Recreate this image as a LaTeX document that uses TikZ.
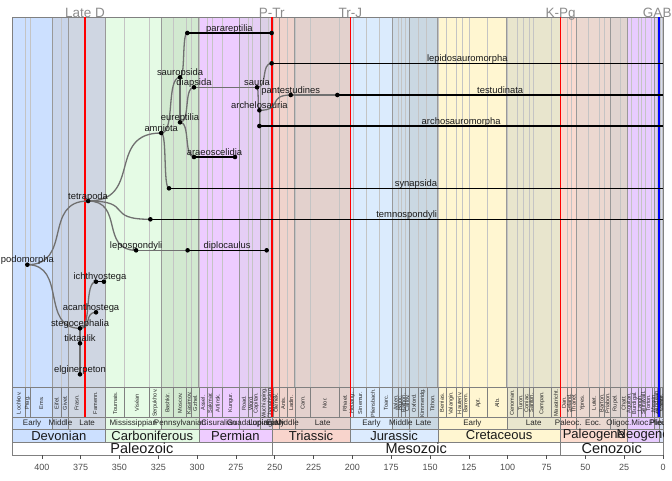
\documentclass[tikz,border=0pt]{standalone}
\usepackage{fontspec}
\setmainfont{Liberation Sans}
\usetikzlibrary{calc}
% epoch colours (panel bands, stage and epoch rows)
\definecolor{edev}{HTML}{CCE0FF}
\definecolor{mdev}{HTML}{C9D5EA}
\definecolor{ldev}{HTML}{CFD6E2}
\definecolor{miss}{HTML}{E5FBE5}
\definecolor{penn}{HTML}{D2E9D0}
\definecolor{cisu}{HTML}{EDCCFF}
\definecolor{guad}{HTML}{E5CEF5}
\definecolor{lopi}{HTML}{DCD0E6}
\definecolor{etri}{HTML}{F8D4CC}
\definecolor{mtri}{HTML}{EFD3CC}
\definecolor{ltri}{HTML}{E3D1CD}
\definecolor{ejur}{HTML}{DBEBFD}
\definecolor{mjur}{HTML}{CEDCE9}
\definecolor{ljur}{HTML}{CAD8E2}
\definecolor{ecre}{HTML}{FFF6D1}
\definecolor{lcre}{HTML}{E8E5CD}
\definecolor{pale}{HTML}{FADAD0}
\definecolor{eoce}{HTML}{EBD8D0}
\definecolor{olig}{HTML}{E0D4D0}
\definecolor{mioc}{HTML}{E8CCFF}
\definecolor{plio}{HTML}{DECCF2}
\definecolor{plei}{HTML}{D8DCF0}
\definecolor{holo}{HTML}{D8DCF0}
% period colours
\definecolor{pdev}{HTML}{CCE0FF}
\definecolor{pcar}{HTML}{E3F9E3}
\definecolor{pper}{HTML}{EECCFF}
\definecolor{ptri}{HTML}{F8D4CC}
\definecolor{pjur}{HTML}{DCEBFE}
\definecolor{pcre}{HTML}{FFF6D1}
\definecolor{ppal}{HTML}{FCDCCF}
\definecolor{pneo}{HTML}{E8CCFF}
\definecolor{pqua}{HTML}{DDE4FA}
% lines and text
\definecolor{branchgray}{HTML}{707070}
\definecolor{stageline}{HTML}{C4C4C4}
\definecolor{epochline}{HTML}{999999}
\definecolor{barline}{HTML}{808080}
\definecolor{ticktext}{HTML}{4D4D4D}
\definecolor{eventtext}{HTML}{8C8C8C}
\tikzstyle{taxdot} = [circle, fill=black, inner sep=0pt, minimum size=4.6pt]
\tikzstyle{branchline} = [draw=branchgray, line width=1.3pt]
\tikzstyle{tipline} = [draw=black, line width=1.3pt]
\tikzstyle{taxlabel} = [font=\fontsize{9.4}{10}\selectfont, text=black!90,
  anchor=base, inner sep=0pt, yshift=2pt]
\tikzstyle{stagebox} = [draw=barline, line width=0.5pt]
\tikzstyle{stagelabel} = [font=\fontsize{5.6}{6}\selectfont, rotate=90,
  inner sep=0pt, text=black!85]
\tikzstyle{epochlabel} = [font=\fontsize{8}{9}\selectfont, inner sep=0pt, text=black!85]
\tikzstyle{periodlabel} = [font=\fontsize{13}{14}\selectfont, inner sep=0pt, text=black!90]
\tikzstyle{eralabel} = [font=\fontsize{14.5}{15}\selectfont, inner sep=0pt, text=black!90]
\tikzstyle{eventlabel} = [font=\fontsize{13.5}{14}\selectfont, text=eventtext,
  anchor=base, inner sep=0pt]
\tikzstyle{eventline} = [line width=1.4pt]
\tikzstyle{ticklabel} = [font=\fontsize{9}{10}\selectfont, text=ticktext, inner sep=0pt]
% sigmoid branch between two taxa
\newcommand{\bumpline}[2]{%
  \draw[branchline] let \p1=(#1), \p2=(#2) in
    (\p1) .. controls ({\x1+0.75*(\x2-\x1)},\y1) and ({\x2-0.75*(\x2-\x1)},\y2) .. (\p2);}
\def\stagelist{419.2/410.8/Lochkov./edev, 410.8/407.6/Prag./edev, 407.6/393.3/Ems./edev,
  393.3/387.7/Eifel./mdev, 387.7/382.7/Givet./mdev, 382.7/372.2/Frasn./ldev,
  372.2/358.9/Famenn./ldev, 358.9/346.7/Tournais./miss, 346.7/330.9/Viséan/miss,
  330.9/323.2/Serpukhov./miss, 323.2/315.2/Bashkir./penn, 315.2/307.0/Moscov./penn,
  307.0/303.7/Kasimov./penn, 303.7/298.9/Gzhel./penn, 298.9/293.52/Assel./cisu,
  293.52/290.1/Sakmar./cisu, 290.1/283.5/Artinsk./cisu, 283.5/273.01/Kungur./cisu,
  273.01/266.9/Road./guad, 266.9/264.28/Word./guad, 264.28/259.51/Capitan./guad,
  259.51/254.14/Wuchiaping./lopi, 254.14/251.902/Changhsing./lopi,
  251.902/251.2/Induan/etri, 251.2/247.2/Olenek./etri, 247.2/242/Anis./mtri,
  242/237/Ladin./mtri, 237/227/Carn./ltri, 227/208.5/Nor./ltri, 208.5/201.3/Rhaet./ltri,
  201.3/199.3/Hettang./ejur, 199.3/190.8/Sinemur./ejur, 190.8/182.7/Pliensbach./ejur,
  182.7/174.1/Toarc./ejur, 174.1/170.3/Aalen./mjur, 170.3/168.3/Bajoc./mjur,
  168.3/166.1/Bathon./mjur, 166.1/163.5/Callov./mjur, 163.5/157.3/Oxford./ljur,
  157.3/152.1/Kimmeridg./ljur, 152.1/145/Tithon./ljur, 145/139.8/Berrias./ecre,
  139.8/132.9/Valangin./ecre, 132.9/129.4/Hauteriv./ecre, 129.4/125/Barrem./ecre,
  125/113/Apt./ecre, 113/100.5/Alb./ecre, 100.5/93.9/Cenoman./lcre,
  93.9/89.8/Turon./lcre, 89.8/86.3/Coniac./lcre, 86.3/83.6/Santon./lcre,
  83.6/72.1/Campan./lcre, 72.1/66/Maastricht./lcre, 66/61.6/Dan./pale,
  61.6/59.2/Seland./pale, 59.2/56/Thanet./pale, 56/47.8/Ypres./eoce,
  47.8/41.2/Lutet./eoce, 41.2/37.71/Barton./eoce, 37.71/33.9/Priabon./eoce,
  33.9/27.82/Rupel./olig, 27.82/23.03/Chatt./olig, 23.03/20.44/Aquitan./mioc,
  20.44/15.97/Burdigal./mioc, 15.97/13.82/Langh./mioc, 13.82/11.63/Serravall./mioc,
  11.63/7.246/Torton./mioc, 7.246/5.333/Messin./mioc, 5.333/3.6/Zanclean/plio,
  3.6/2.58/Piacenz./plio, 2.58/1.8/Gelas./plei, 1.8/0.774/Calabr./plei,
  0.774/0.129//plei, 0.129/0.0117//plei, 0.0117/0//holo}
\def\epochlist{419.2/393.3/Early/edev, 393.3/382.7/Middle/mdev, 382.7/358.9/Late/ldev,
  358.9/323.2/Mississippian/miss, 323.2/298.9/Pennsylvanian/penn,
  298.9/273.01/Cisuralian/cisu, 273.01/259.51/Guadalupian/guad,
  259.51/251.902/Lopingian/lopi, 251.902/247.2/Early/etri, 247.2/237/Middle/mtri,
  237/201.3/Late/ltri, 201.3/174.1/Early/ejur, 174.1/163.5/Middle/mjur,
  163.5/145/Late/ljur, 145/100.5/Early/ecre, 100.5/66/Late/lcre, 66/56/Paleoc./pale,
  56/33.9/Eoc./eoce, 33.9/23.03/Oligoc./olig, 23.03/5.333/Mioc./mioc,
  5.333/2.58/Plio./plio, 2.58/0.0117/Pleist./plei, 0.0117/0//holo}
\def\periodlist{419.2/358.9/Devonian/pdev, 358.9/298.9/Carboniferous/pcar,
  298.9/251.902/Permian/pper, 251.902/201.3/Triassic/ptri, 201.3/145/Jurassic/pjur,
  145/66/Cretaceous/pcre, 66/23.03/Paleogene/ppal, 23.03/2.58/Neogene/pneo,
  2.58/0//pqua}
\def\eralist{419.2/251.902/Paleozoic, 251.902/66/Mesozoic, 66/0/Cenozoic}

\begin{document}
\begin{tikzpicture}[x=1pt, y=-1pt]
\useasboundingbox (0,0) rectangle (672,480);
\begin{scope}[shift={(663,0)}, x=-1.553pt]

  % panel bands, stage lines and stage row
  \foreach \a/\b/\lab/\col in \stagelist {
    \fill[\col] (\a,17) rectangle (\b,387);
    \draw[stageline, line width=0.6pt] (\a,17) -- (\a,387);
    \filldraw[stagebox, fill=\col] (\a,387) rectangle (\b,417);
  }
  \foreach \a in {393.3,382.7,358.9,323.2,298.9,273.01,259.51,251.902,247.2,237,
    201.3,174.1,163.5,145,100.5,66,56,33.9,23.03,5.333,2.58}
    \draw[epochline, line width=0.9pt] (\a,17) -- (\a,387);
  \draw[barline, line width=0.7pt] (419.2,17) rectangle (0,387);

  % epoch, period and era rows
  \foreach \a/\b/\lab/\col in \epochlist
    \filldraw[stagebox, fill=\col] (\a,417) rectangle (\b,429);
  \foreach \a/\b/\lab/\col in \periodlist
    \filldraw[stagebox, fill=\col] (\a,429) rectangle (\b,442);
  \foreach \a/\b/\lab in \eralist
    \filldraw[stagebox, fill=white] (\a,442) rectangle (\b,455);

  \begin{scope}
    \clip (419.2,380) rectangle (0,460);
    \foreach \a/\b/\lab/\col [count=\i] in \stagelist
      \node[stagelabel] (st-\i) at ({(\a+\b)/2},403) {\lab};
    \foreach \a/\b/\lab/\col [count=\i] in \epochlist
      \node[epochlabel] (ep-\i) at ({(\a+\b)/2},423) {\lab};
    \foreach \a/\b/\lab/\col [count=\i] in \periodlist
      \node[periodlabel] (pe-\i) at ({(\a+\b)/2},435.5) {\lab};
    \foreach \a/\b/\lab [count=\i] in \eralist
      \node[eralabel] (er-\i) at ({(\a+\b)/2},448.5) {\lab};
  \end{scope}

  % axis
  \foreach \t in {0,25,...,400} {
    \draw[ticktext, line width=0.6pt] (\t,455) -- (\t,459);
    \node[ticklabel] (tick-\t) at (\t,467) {\t};
  }

  % events
  \foreach \t/\lab/\col [count=\i] in {372.2/Late D/red, 251.902/P-Tr/red,
    201.3/Tr-J/red, 66/K-Pg/red, 2.5/GABI/blue} {
    \draw[eventline, \col] (\t,17) -- (\t,417);
    \node[eventlabel] (ev-\i) at (\t,17.5) {\lab};
  }

  % taxa
  \coordinate (podo) at (409.3,264.7);
  \coordinate (tetra) at (370.2,201);
  \coordinate (stego) at (375.4,328.3);
  \coordinate (tikta) at (375.4,343.3);
  \coordinate (elgin) at (375.4,374.3);
  \coordinate (acan) at (365.1,312.3);
  \coordinate (ichA) at (365.1,281.7);
  \coordinate (ichB) at (360,281.7);
  \coordinate (amni) at (323.1,133);
  \coordinate (temno) at (330.1,219.3);
  \coordinate (temnoE) at (0,219.3);
  \coordinate (lepo) at (339.3,250.3);
  \coordinate (diploA) at (306.1,250.3);
  \coordinate (diploB) at (255.2,250.3);
  \coordinate (sauro) at (311,77.3);
  \coordinate (syna) at (318.1,188.3);
  \coordinate (synaE) at (0,188.3);
  \coordinate (paraA) at (306.3,33);
  \coordinate (paraB) at (252,33);
  \coordinate (eurep) at (311,122.3);
  \coordinate (diaps) at (302,87.3);
  \coordinate (araeA) at (302,157);
  \coordinate (araeB) at (275.6,157);
  \coordinate (sauria) at (261.4,87.3);
  \coordinate (lepido) at (252,63.3);
  \coordinate (lepidoE) at (0,63.3);
  \coordinate (archel) at (259.9,110.3);
  \coordinate (archo) at (259.9,126);
  \coordinate (archoE) at (0,126);
  \coordinate (pant) at (239.7,95);
  \coordinate (testu) at (209.7,95);
  \coordinate (testuE) at (0,95);

  % branches
  \bumpline{podo}{tetra}
  \bumpline{podo}{stego}
  \bumpline{stego}{ichA}
  \bumpline{stego}{acan}
  \bumpline{stego}{elgin}
  \bumpline{tetra}{amni}
  \bumpline{tetra}{temno}
  \bumpline{tetra}{lepo}
  \bumpline{lepo}{diploA}
  \bumpline{amni}{sauro}
  \bumpline{amni}{syna}
  \bumpline{sauro}{paraA}
  \bumpline{sauro}{eurep}
  \bumpline{eurep}{diaps}
  \bumpline{eurep}{araeA}
  \bumpline{diaps}{sauria}
  \bumpline{sauria}{lepido}
  \bumpline{sauria}{archel}
  \bumpline{archel}{pant}
  \bumpline{archel}{archo}
  \bumpline{pant}{testu}

  % ranges
  \draw[tipline] (ichA) -- (ichB);
  \draw[tipline] (diploA) -- (diploB);
  \draw[tipline] (paraA) -- (paraB);
  \draw[tipline] (araeA) -- (araeB);
  \draw[tipline] (temno) -- (temnoE);
  \draw[tipline] (syna) -- (synaE);
  \draw[tipline] (lepido) -- (lepidoE);
  \draw[tipline] (archo) -- (archoE);
  \draw[tipline] (testu) -- (testuE);

  \foreach \t in {podo,tetra,stego,tikta,elgin,acan,ichA,ichB,amni,temno,lepo,
    diploA,diploB,sauro,syna,paraA,paraB,eurep,diaps,araeA,araeB,sauria,lepido,
    archel,archo,pant,testu}
    \node[taxdot] (\t-dot) at (\t) {};

  % labels
  \node[taxlabel] (podo-lab) at (podo) {podomorpha};
  \node[taxlabel] (tetra-lab) at (tetra) {tetrapoda};
  \node[taxlabel] (stego-lab) at (stego) {stegocephalia};
  \node[taxlabel] (tikta-lab) at (tikta) {tiktaalik};
  \node[taxlabel] (elgin-lab) at (elgin) {elginerpeton};
  \node[taxlabel, xshift=-5pt] (acan-lab) at (acan) {acanthostega};
  \node[taxlabel] (ich-lab) at ($(ichA)!0.5!(ichB)$) {ichthyostega};
  \node[taxlabel] (amni-lab) at (amni) {amniota};
  \node[taxlabel] (temno-lab) at ($(temno)!0.5!(temnoE)$) {temnospondyli};
  \node[taxlabel] (lepo-lab) at (lepo) {lepospondyli};
  \node[taxlabel] (diplo-lab) at ($(diploA)!0.5!(diploB)$) {diplocaulus};
  \node[taxlabel] (sauro-lab) at (sauro) {sauropsida};
  \node[taxlabel] (syna-lab) at ($(syna)!0.5!(synaE)$) {synapsida};
  \node[taxlabel] (para-lab) at ($(paraA)!0.5!(paraB)$) {parareptilia};
  \node[taxlabel] (eurep-lab) at (eurep) {eureptilia};
  \node[taxlabel] (diaps-lab) at (diaps) {diapsida};
  \node[taxlabel] (arae-lab) at ($(araeA)!0.5!(araeB)$) {araeoscelidia};
  \node[taxlabel] (sauria-lab) at (sauria) {sauria};
  \node[taxlabel] (lepido-lab) at ($(lepido)!0.5!(lepidoE)$) {lepidosauromorpha};
  \node[taxlabel] (archel-lab) at (archel) {archelosauria};
  \node[taxlabel] (archo-lab) at ($(archo)!0.5!(archoE)$) {archosauromorpha};
  \node[taxlabel] (pant-lab) at (pant) {pantestudines};
  \node[taxlabel] (testu-lab) at ($(testu)!0.5!(testuE)$) {testudinata};

\end{scope}
\end{tikzpicture}
\end{document}
